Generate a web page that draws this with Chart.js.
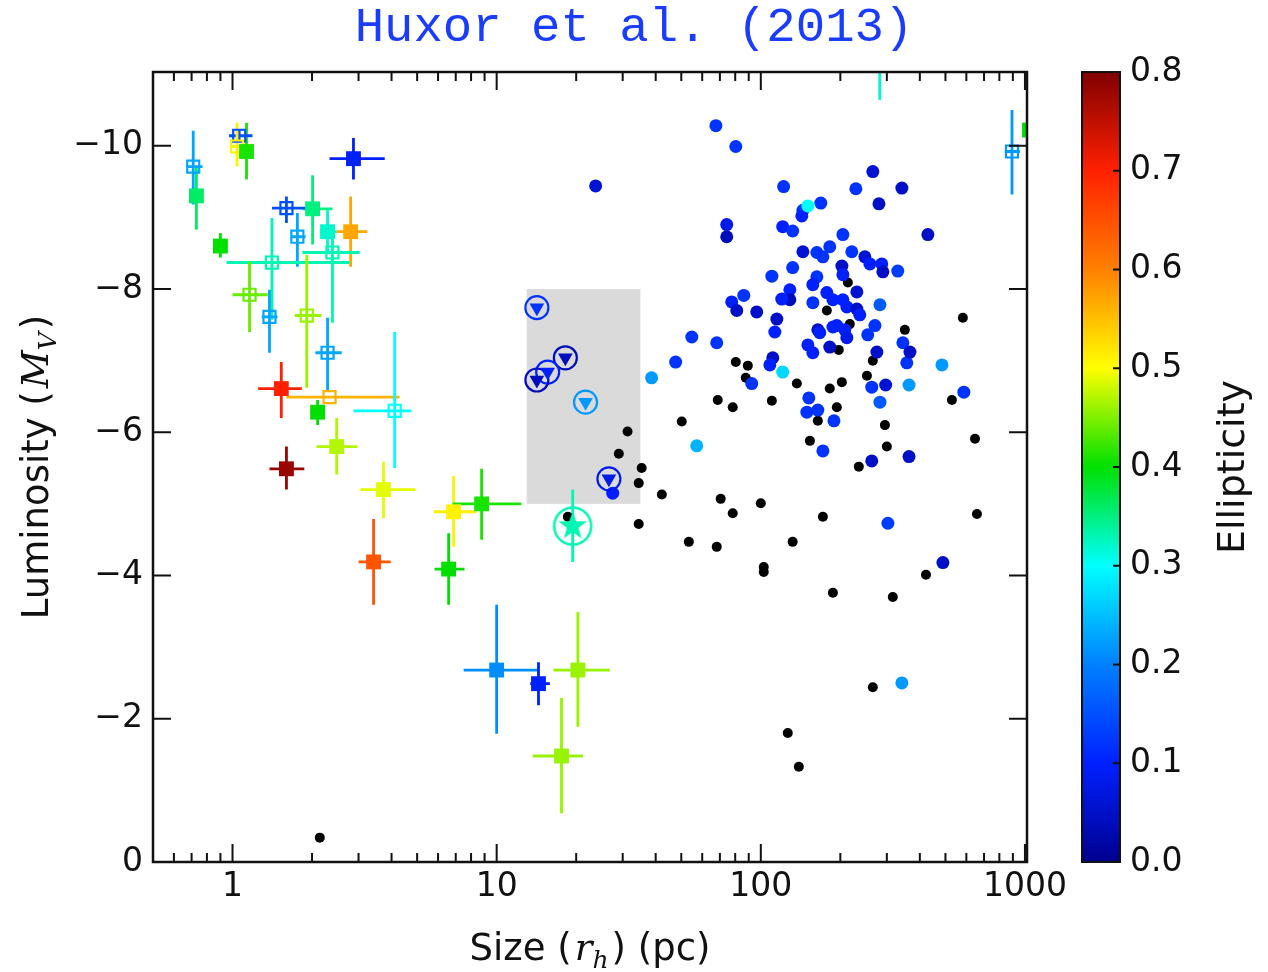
<!DOCTYPE html>
<html lang="en">
<head>
<meta charset="UTF-8">
<title>Huxor et al. (2013)</title>
<script src="https://cdn.jsdelivr.net/npm/chart.js"></script>
<style>
  html, body { margin: 0; padding: 0; background: #fff; }
  #grafico { display: block; }
</style>
</head>
<body>
<canvas id="grafico" width="1268" height="972"></canvas>

<script>
  // ---------- values ----------
  // x = size r_h (pc), y = luminosity M_V, ell = ellipticity

  // filled squares with error bars
  const sqEll    = [0.36, 0.41, 0.10, 0.40, 0.35, 0.32, 0.57, 0.70, 0.40, 0.47, 0.78, 0.49, 0.51, 0.41, 0.645, 0.40, 0.21, 0.10, 0.46, 0.46, 0.40, 0.32];
  const sqSize   = [0.73, 1.13, 2.87, 0.90, 2.01, 2.29, 2.80, 1.53, 2.10, 2.48, 1.60, 3.73, 6.87, 8.77, 3.42, 6.58, 10.0, 14.4, 20.3, 17.6, 1040, 282];
  const sqMag    = [-9.30, -9.92, -9.82, -8.60, -9.12, -8.80, -8.80, -6.61, -6.28, -5.80, -5.49, -5.20, -4.89, -5.00, -4.19, -4.09, -2.68, -2.49, -2.68, -1.48, -10.22, -11.4];
  const sqSizeLo = [null, null, 2.33, null, 1.84, 2.14, 2.48, 1.25, 1.97, 2.08, 1.38, 3.05, 5.77, 6.81, 3.00, 5.82, 7.50, 13.4, 16.4, 13.7, null, null];
  const sqSizeHi = [null, null, 3.77, null, 2.39, 2.48, 3.24, 1.83, 2.23, 2.97, 1.87, 4.93, 8.40, 12.4, 3.97, 7.56, 14.5, 15.9, 26.8, 21.2, null, null];
  const sqMagLo  = [-9.71, -10.32, -10.11, -8.78, -9.59, -9.11, -9.29, -6.98, -6.45, -6.20, -5.80, -5.59, -5.39, -5.49, -4.79, -4.59, -3.59, -2.79, -3.49, -2.29, null, -11.9];
  const sqMagHi  = [-8.83, -9.53, -9.53, -8.44, -8.62, -8.50, -8.31, -6.20, -6.10, -5.41, -5.20, -4.80, -4.40, -4.50, -3.59, -3.59, -1.79, -2.19, -1.89, -0.68, null, -10.64];

  // open squares with error bars
  const opEll    = [0.23, 0.15, 0.51, 0.15, 0.23, 0.33, 0.33, 0.23, 0.44, 0.46, 0.23, 0.56, 0.30, 0.22];
  const opSize   = [0.71, 1.06, 1.04, 1.60, 1.76, 1.41, 2.39, 1.38, 1.16, 1.91, 2.29, 2.33, 4.11, 893];
  const opMag    = [-9.71, -10.14, -9.99, -9.13, -8.73, -8.37, -8.51, -7.61, -7.92, -7.63, -7.11, -6.49, -6.30, -9.92];
  const opSizeLo = [0.67, 0.97, 0.99, 1.41, 1.66, 0.95, 1.84, 1.29, 1.00, 1.72, 2.06, 1.60, 2.87, 840];
  const opSizeHi = [0.77, 1.19, 1.12, 1.91, 1.89, 2.77, 3.03, 1.48, 1.36, 2.17, 2.59, 4.29, 4.76, 957];
  const opMagLo  = [-10.21, -10.22, -10.32, -9.29, -9.06, -8.99, -8.83, -7.99, -8.38, -8.48, -7.60, null, -7.40, -10.50];
  const opMagHi  = [-9.18, -10.06, -9.71, -8.92, -8.31, -7.57, -7.53, -7.11, -7.40, -6.62, -6.59, null, -5.50, -9.32];

  // circled triangles inside the grey box
  const triEll  = [0.12, 0.04, 0.10, 0.04, 0.22, 0.08];
  const triSize = [14.2, 18.2, 15.6, 14.2, 21.7, 26.6];
  const triMag  = [-7.74, -7.04, -6.84, -6.73, -6.42, -5.35];

  // circled star
  const starEll   = [0.33];
  const starSize  = [19.4];
  const starMag   = [-4.69];
  const starMagLo = [-5.20];
  const starMagHi = [-4.19];

  // grey region
  const boxSize = [13, 35];
  const boxMag  = [-8, -5];

  // coloured dots
  const dotSize = [23.7, 67.6, 80.4, 122, 168.7, 144.3, 143, 150.7, 74.3, 74.3, 121, 132, 204.5, 144.3, 163, 182.4, 171.8, 202.7, 132, 110.1,
    163, 157.4, 128.8, 128.8, 120, 86.2, 77.6, 81.1, 96.5, 157.4, 177.8, 187.5, 115, 113, 164.4, 187.5, 54.8, 68.1, 150.7, 265.5,
    229, 342, 280, 429, 221, 247.7, 258.8, 287, 289.7, 330, 204.5, 231, 204.5, 211.7, 231, 237, 282.5, 270.4, 254, 167.2,
    194, 208, 211.7, 345, 47.6, 38.6, 111, 108.2, 121, 92.4, 157.4, 182.4, 152, 149.4, 164.4, 189.2, 57.2, 171.8, 485, 587,
    364, 357, 367, 275, 263, 297, 282.5, 364, 263, 302.7, 489, 342, 27.5];
  const dotMag = [-9.44, -10.28, -9.99, -9.43, -9.20, -9.10, -9.02, -9.16, -8.90, -8.73, -8.87, -8.81, -8.76, -8.52, -8.51, -8.59, -8.45, -8.32, -8.30, -8.18,
    -8.17, -8.06, -7.99, -7.85, -7.86, -7.91, -7.82, -7.70, -7.68, -7.81, -7.95, -7.85, -7.58, -7.40, -7.43, -7.47, -7.33, -7.25, -7.22, -9.64,
    -9.40, -9.41, -9.19, -8.76, -8.52, -8.45, -8.35, -8.35, -8.24, -8.25, -8.20, -7.96, -7.85, -7.75, -7.72, -7.64, -7.78, -7.49, -7.36, -7.39,
    -7.49, -7.43, -7.32, -7.25, -6.98, -6.76, -7.04, -6.94, -6.84, -6.68, -7.11, -7.19, -6.48, -6.28, -6.31, -6.16, -5.81, -5.74, -6.94, -6.56,
    -6.66, -6.97, -7.12, -7.12, -6.63, -6.66, -6.42, -5.66, -5.60, -4.73, -4.18, -2.50, -5.15];
  const dotEll = [0.06, 0.12, 0.12, 0.12, 0.12, 0.12, 0.10, 0.30, 0.08, 0.04, 0.10, 0.12, 0.12, 0.06, 0.12, 0.12, 0.12, 0.05, 0.12, 0.12,
    0.12, 0.10, 0.10, 0.04, 0.10, 0.12, 0.10, 0.05, 0.05, 0.12, 0.10, 0.10, 0.05, 0.10, 0.05, 0.10, 0.12, 0.12, 0.10, 0.06,
    0.12, 0.05, 0.05, 0.05, 0.12, 0.06, 0.10, 0.10, 0.05, 0.13, 0.10, 0.06, 0.10, 0.10, 0.05, 0.10, 0.16, 0.12, 0.12, 0.10,
    0.10, 0.10, 0.08, 0.12, 0.12, 0.22, 0.05, 0.10, 0.27, 0.12, 0.10, 0.05, 0.12, 0.12, 0.12, 0.12, 0.24, 0.12, 0.22, 0.12,
    0.22, 0.12, 0.05, 0.05, 0.12, 0.06, 0.16, 0.05, 0.05, 0.13, 0.05, 0.22, 0.10];

  // black dots (no ellipticity)
  const blkSize = [31.3, 29.0, 35.4, 34.5, 42.2, 34.5, 53.4, 50.2, 18.6, 177.8, 213.6, 582, 351, 217.3, 80.4, 89.3, 87.7, 136.9, 182.4, 202.7,
    197.3, 68.7, 78.3, 110.1, 194, 164.4, 153.4, 70.5, 78.3, 100, 171.8, 68.1, 132, 102.6, 102.6, 265.5, 252.2, 295, 300, 235,
    529, 647, 658, 422, 316, 187.5, 265.5, 126.5, 139.3, 2.14];
  const blkMag = [-6.01, -5.70, -5.50, -5.29, -5.13, -4.72, -4.47, -6.15, -4.82, -7.70, -8.09, -7.60, -7.43, -7.51, -6.98, -6.93, -6.76, -6.68, -6.61, -6.70,
    -7.15, -6.45, -6.35, -6.44, -6.35, -6.16, -5.88, -5.07, -4.87, -5.01, -4.82, -4.40, -4.47, -4.12, -4.05, -7.00, -6.79, -6.10, -5.80, -5.52,
    -6.45, -5.91, -4.86, -4.01, -3.70, -3.76, -2.44, -1.80, -1.33, -0.34];

  // axes
  const xTickLabels = [1, 10, 100, 1000];
  const yTickValues = [-10, -8, -6, -4, -2, 0];
  const cbTickValues = [0, 0.1, 0.2, 0.3, 0.4, 0.5, 0.6, 0.7, 0.8];

  // ---------- colour map (colorbar 0 .. 0.8) ----------
  const cmap = [
    [0.0, [0, 0, 143]],
    [0.125, [0, 32, 255]],
    [0.25, [0, 128, 255]],
    [0.375, [0, 255, 255]],
    [0.5, [0, 224, 0]],
    [0.625, [255, 255, 0]],
    [0.75, [255, 128, 0]],
    [0.875, [255, 32, 0]],
    [1.0, [128, 0, 0]]
  ];
  function ellColor(e) {
    const t = Math.max(0, Math.min(1, e / 0.8));
    for (let i = 1; i < cmap.length; i++) {
      if (t <= cmap[i][0]) {
        const [t0, c0] = cmap[i - 1], [t1, c1] = cmap[i];
        const f = (t - t0) / (t1 - t0);
        return 'rgb(' + c0.map((c, k) => Math.round(c + (c1[k] - c) * f)).join(',') + ')';
      }
    }
    return 'rgb(128,0,0)';
  }

  // minor + major ticks for the log axis
  const xTicks = [];
  [0.1, 1, 10, 100].forEach(d => {
    for (let m = 1; m <= 9; m++) {
      const v = +(m * d).toPrecision(3);
      if (v >= 0.5 && v <= 1000) xTicks.push(v);
    }
  });
  xTicks.push(1000);

  const pts = (xs, ys) => xs.map((v, i) => ({ x: v, y: ys[i] }));

  // star marker with a ring round it
  function starMarker(color) {
    const c = document.createElement('canvas');
    c.width = c.height = 44;
    const g = c.getContext('2d');
    g.strokeStyle = color;
    g.lineWidth = 2.5;
    g.beginPath();
    g.arc(22, 22, 18.5, 0, Math.PI * 2);
    g.stroke();
    g.fillStyle = color;
    g.beginPath();
    for (let i = 0; i < 10; i++) {
      const r = i % 2 ? 6 : 15;
      const a = -Math.PI / 2 + i * Math.PI / 5;
      g.lineTo(22 + r * Math.cos(a), 22 + r * Math.sin(a));
    }
    g.closePath();
    g.fill();
    return c;
  }

  // ---------- plugins ----------
  function drawBars(ctx, x, y, xs, ys, xlo, xhi, ylo, yhi, ell) {
    xs.forEach((v, i) => {
      ctx.strokeStyle = ellColor(ell[i]);
      const px = x.getPixelForValue(v), py = y.getPixelForValue(ys[i]);
      ctx.beginPath();
      if (xlo && xlo[i] != null) {
        ctx.moveTo(x.getPixelForValue(xlo[i]), py);
        ctx.lineTo(x.getPixelForValue(xhi[i]), py);
      }
      if (ylo && ylo[i] != null) {
        ctx.moveTo(px, y.getPixelForValue(ylo[i]));
        ctx.lineTo(px, y.getPixelForValue(yhi[i]));
      }
      ctx.stroke();
    });
  }

  const fundo = {
    id: 'fundo',
    beforeDatasetsDraw(chart) {
      const { ctx, chartArea: a, scales: { x, y } } = chart;
      ctx.save();
      ctx.beginPath();
      ctx.rect(a.left, a.top, a.width, a.height);
      ctx.clip();
      // grey box
      const bx0 = x.getPixelForValue(boxSize[0]), bx1 = x.getPixelForValue(boxSize[1]);
      const by0 = y.getPixelForValue(boxMag[0]), by1 = y.getPixelForValue(boxMag[1]);
      ctx.fillStyle = '#dadada';
      ctx.fillRect(bx0, by0, bx1 - bx0, by1 - by0);
      // error bars
      ctx.lineWidth = 2.8;
      drawBars(ctx, x, y, sqSize, sqMag, sqSizeLo, sqSizeHi, sqMagLo, sqMagHi, sqEll);
      drawBars(ctx, x, y, opSize, opMag, opSizeLo, opSizeHi, opMagLo, opMagHi, opEll);
      drawBars(ctx, x, y, starSize, starMag, null, null, starMagLo, starMagHi, starEll);
      ctx.restore();
    }
  };

  const moldura = {
    id: 'moldura',
    afterDatasetsDraw(chart) {
      const { ctx, chartArea: a, scales: { x, y } } = chart;
      ctx.save();
      ctx.strokeStyle = '#111';
      ctx.lineWidth = 2.5;
      ctx.strokeRect(a.left, a.top, a.width, a.height);
      ctx.lineWidth = 2;
      ctx.beginPath();
      x.ticks.forEach(t => {
        const px = x.getPixelForValue(t.value);
        const len = xTickLabels.includes(t.value) ? 18 : 9;
        ctx.moveTo(px, a.bottom); ctx.lineTo(px, a.bottom - len);
        ctx.moveTo(px, a.top); ctx.lineTo(px, a.top + len);
      });
      y.ticks.forEach(t => {
        const py = y.getPixelForValue(t.value);
        ctx.moveTo(a.left, py); ctx.lineTo(a.left + 18, py);
        ctx.moveTo(a.right, py); ctx.lineTo(a.right - 18, py);
      });
      ctx.stroke();
      ctx.restore();
    }
  };

  function drawParts(ctx, parts, cx, base, rotate) {
    ctx.save();
    ctx.translate(rotate ? base : cx, rotate ? cx : base);
    if (rotate) ctx.rotate(-Math.PI / 2);
    let total = 0;
    parts.forEach(p => { ctx.font = p.font; p.w = ctx.measureText(p.text).width + (p.gap || 0); total += p.w; });
    let xx = -total / 2;
    ctx.fillStyle = '#111';
    ctx.textBaseline = 'alphabetic';
    parts.forEach(p => { ctx.font = p.font; ctx.fillText(p.text, xx, p.dy || 0); xx += p.w; });
    ctx.restore();
  }

  const extras = {
    id: 'extras',
    afterDraw(chart) {
      const { ctx, chartArea: a, scales: { cb } } = chart;
      // colorbar
      const x0 = a.right + 55, w = 38;
      const top = cb.getPixelForValue(0.8), bot = cb.getPixelForValue(0);
      const grad = ctx.createLinearGradient(0, bot, 0, top);
      cmap.forEach(([t, c]) => grad.addColorStop(t, 'rgb(' + c.join(',') + ')'));
      ctx.save();
      ctx.fillStyle = grad;
      ctx.fillRect(x0, top, w, bot - top);
      ctx.strokeStyle = '#111';
      ctx.lineWidth = 2;
      ctx.strokeRect(x0, top, w, bot - top);
      ctx.beginPath();
      cb.ticks.forEach(t => {
        const py = cb.getPixelForValue(t.value);
        ctx.moveTo(x0 + w, py); ctx.lineTo(x0 + w - 7, py);
      });
      ctx.stroke();
      ctx.restore();

      // axis titles
      const sans = '37px "DejaVu Sans"';
      const ital = 'italic 37px "DejaVu Serif"';
      const sub = 'italic 25px "DejaVu Serif"';
      drawParts(ctx, [
        { text: 'Size (', font: sans, gap: 3 },
        { text: 'r', font: ital },
        { text: 'h', font: sub, dy: 8, gap: 3 },
        { text: ') (pc)', font: sans }
      ], (a.left + a.right) / 2, 960, false);
      drawParts(ctx, [
        { text: 'Luminosity (', font: sans, gap: 3 },
        { text: 'M', font: ital },
        { text: 'V', font: sub, dy: 8, gap: 3 },
        { text: ')', font: sans }
      ], (a.top + a.bottom) / 2, 48, true);
      drawParts(ctx, [
        { text: 'Ellipticity', font: '38px "DejaVu Sans"' }
      ], (a.top + a.bottom) / 2, 1244, true);
    }
  };

  // keep tick-label padding from pushing the plot area around
  const noPadV = s => { s.paddingTop = 0; s.paddingBottom = 0; };

  // ---------- chart ----------
  Chart.defaults.font.family = '"DejaVu Sans", sans-serif';
  Chart.defaults.color = '#111';

  const tickFont = { family: '"DejaVu Sans"', size: 33 };

  new Chart(document.getElementById('grafico'), {
    type: 'scatter',
    data: {
      datasets: [
        {
          data: pts(starSize, starMag),
          pointStyle: starEll.map(e => starMarker(ellColor(e))),
          pointRadius: 22,
          clip: 0
        },
        {
          data: pts(triSize, triMag),
          pointStyle: 'triangle',
          rotation: 180,
          pointRadius: 8.5,
          borderWidth: 0,
          backgroundColor: triEll.map(ellColor),
          clip: 0
        },
        {
          data: pts(triSize, triMag),
          pointStyle: 'circle',
          pointRadius: 11.5,
          borderWidth: 2.2,
          backgroundColor: 'rgba(0,0,0,0)',
          borderColor: triEll.map(ellColor),
          clip: 0
        },
        {
          data: pts(sqSize, sqMag),
          pointStyle: 'rect',
          pointRadius: 10.5,
          borderWidth: 0,
          backgroundColor: sqEll.map(ellColor),
          clip: 0
        },
        {
          data: pts(opSize, opMag),
          pointStyle: 'rect',
          pointRadius: 8.5,
          borderWidth: 2.2,
          backgroundColor: 'rgba(0,0,0,0)',
          borderColor: opEll.map(ellColor),
          clip: 0
        },
        {
          data: pts(dotSize, dotMag),
          pointStyle: 'circle',
          pointRadius: 6.5,
          borderWidth: 0,
          backgroundColor: dotEll.map(ellColor),
          clip: 0
        },
        {
          data: pts(blkSize, blkMag),
          pointStyle: 'circle',
          pointRadius: 5,
          borderWidth: 0,
          backgroundColor: '#000',
          clip: 0
        }
      ]
    },
    options: {
      responsive: false,
      animation: false,
      events: [],
      layout: { padding: 0 },
      plugins: {
        legend: { display: false },
        tooltip: { enabled: false },
        title: {
          display: true,
          text: 'Huxor et al. (2013)',
          color: '#1a3cff',
          font: { family: '"Liberation Mono", monospace', size: 49, weight: 'normal', lineHeight: 1 },
          padding: { top: 4, bottom: 19 }
        }
      },
      scales: {
        x: {
          type: 'logarithmic',
          min: 0.5,
          max: 1018,
          afterBuildTicks: s => { s.ticks = xTicks.map(v => ({ value: v })); },
          afterFit: s => { s.height = 110; s.paddingLeft = 0; s.paddingRight = 0; },
          grid: { display: false, drawTicks: false },
          border: { display: false },
          ticks: {
            font: tickFont,
            color: '#111',
            padding: 6,
            maxRotation: 0,
            autoSkip: false,
            callback: v => xTickLabels.includes(v) ? String(v) : ''
          }
        },
        y: {
          type: 'linear',
          min: -11.03,
          max: 0,
          reverse: true,
          afterBuildTicks: s => { s.ticks = yTickValues.map(v => ({ value: v })); },
          afterFit: s => { s.width = 153; noPadV(s); },
          grid: { display: false, drawTicks: false },
          border: { display: false },
          ticks: {
            font: tickFont,
            color: '#111',
            padding: 10,
            callback: v => v === 0 ? '0' : '\u2212' + Math.abs(v)
          }
        },
        cb: {
          type: 'linear',
          position: 'right',
          min: 0,
          max: 0.8,
          afterBuildTicks: s => { s.ticks = cbTickValues.map(v => ({ value: v })); },
          afterFit: s => { s.width = 241; noPadV(s); },
          grid: { display: false, drawTicks: false },
          border: { display: false },
          ticks: {
            font: tickFont,
            color: '#111',
            padding: 103,
            callback: v => v.toFixed(1)
          }
        }
      }
    },
    plugins: [fundo, moldura, extras]
  });
</script>
</body>
</html>
